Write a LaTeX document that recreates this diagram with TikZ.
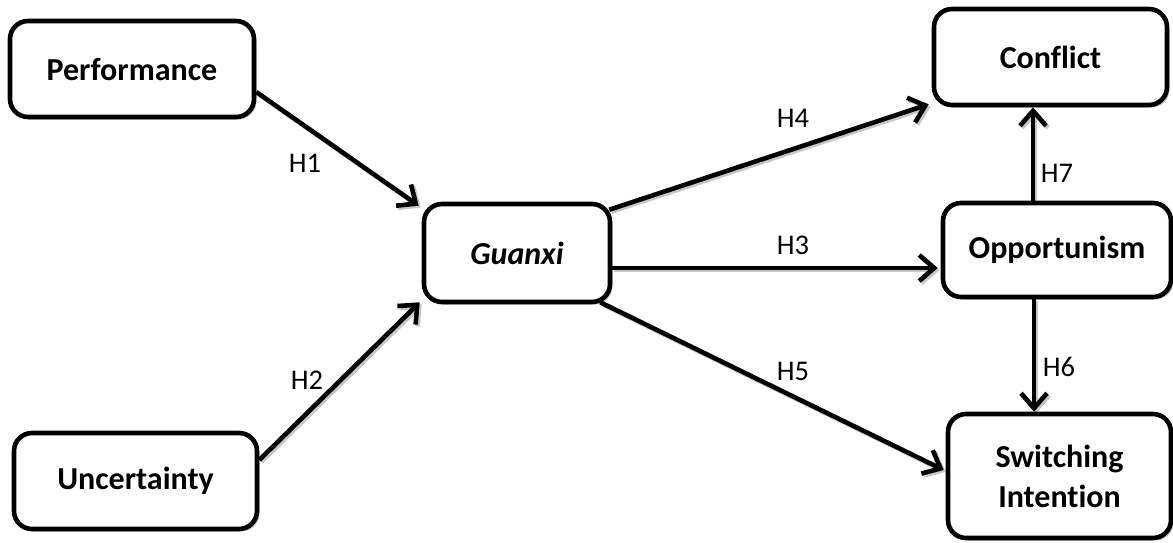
\documentclass[tikz,border=0pt]{standalone}
\usepackage{fontspec}
\setmainfont{Carlito}[Ligatures=NoCommon]
\usetikzlibrary{arrows.meta,calc,shadows,backgrounds}

\begin{document}
\begin{tikzpicture}[x=1pt,y=-1pt,
  box/.style={draw, line width=4.6pt, rounded corners=18pt, fill=white,
    align=center, inner sep=0pt,
    font=\fontsize{32}{40}\selectfont\bfseries,
    drop shadow={shadow xshift=2.5pt, shadow yshift=-2.5pt, opacity=0.25, fill=black}},
  link/.style={line width=4.6pt,
    -{Straight Barb[length=15pt,width=26pt,line width=4.6pt]},
    preaction={draw=black!22, line width=4.6pt,
      transform canvas={shift={(2pt,-2pt)}}}},
  hlabel/.style={font=\fontsize{28.5}{32}\selectfont, inner sep=0pt},
]
\useasboundingbox (0,0) rectangle (1173,542);

% constructs
\node[box, minimum width=244pt, minimum height=96pt] (perf) at (132,69) {Performance};
\node[box, minimum width=243pt, minimum height=96pt] (unc) at (135.5,481) {Uncertainty};
\node[box, minimum width=186pt, minimum height=98pt] (guanxi) at (517,253) {\textit{Guanxi}};
\node[box, minimum width=233pt, minimum height=96pt] (conf) at (1050.5,57) {Conflict};
\node[box, minimum width=228pt, minimum height=94pt] (opp) at (1057,250) {Opportunism};
\node[box, minimum width=223pt, minimum height=124pt] (sw) at (1059.5,476) {Switching\\Intention};

% hypothesised paths
\coordinate (h7s) at ($(opp.north)+(-24,0)$);
\coordinate (h6s) at ($(opp.south)+(-23,0)$);
\begin{pgfonlayer}{background}
\draw[link] ([yshift=-23pt]perf.east) -- ($(guanxi.north west)+(-3,4)$);
\draw[link] ([yshift=21pt]unc.east) -- ($(guanxi.south west)+(-2,-2)$);
\draw[link] ($(guanxi.north east)+(-3,8)$) -- ($(conf.south west)+(-3,-3)$);
\draw[link] ([yshift=-15pt]guanxi.east) -- ($(opp.west)+(-3,18)$);
\draw[link] ($(guanxi.south east)+(-12,-2)$) -- ($(sw.west)+(-2,-6)$);
\draw[link] (h7s) -- (h7s |- conf.south);
\draw[link] (h6s) -- (h6s |- sw.north);
\end{pgfonlayer}

% path labels
\node[hlabel] (h1) at (305,163) {H1};
\node[hlabel] (h2) at (307,380) {H2};
\node[hlabel] (h3) at (793,245) {H3};
\node[hlabel] (h4) at (793,118) {H4};
\node[hlabel] (h5) at (793,371) {H5};
\node[hlabel] (h6) at (1059,367) {H6};
\node[hlabel] (h7) at (1057,173) {H7};
\end{tikzpicture}
\end{document}
